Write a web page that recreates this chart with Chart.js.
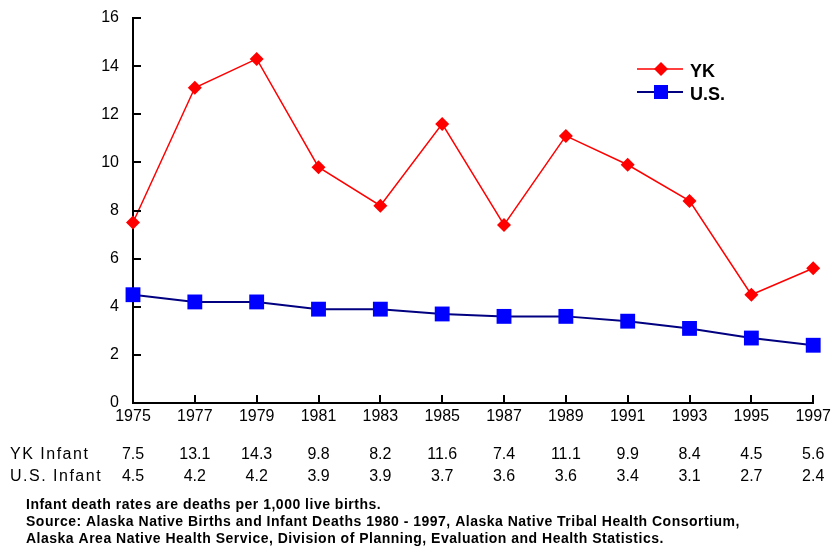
<!DOCTYPE html>
<html>
<head>
<meta charset="utf-8">
<script src="https://cdn.jsdelivr.net/npm/chart.js@4/dist/chart.umd.min.js"></script>
<style>
html,body{margin:0;padding:0;background:#fff;}
#wrap{width:835px;height:552px;position:relative;}
</style>
</head>
<body>
<div id="wrap"><canvas id="c" width="835" height="552"></canvas></div>
<script>
// ---- data ----
const years = ['1975','1977','1979','1981','1983','1985','1987','1989','1991','1993','1995','1997'];
const ykInfant = [7.5, 13.1, 14.3, 9.8, 8.2, 11.6, 7.4, 11.1, 9.9, 8.4, 4.5, 5.6];
const usInfant = [4.5, 4.2, 4.2, 3.9, 3.9, 3.7, 3.6, 3.6, 3.4, 3.1, 2.7, 2.4];
const seriesNames = ['YK', 'U.S.'];
const tableRowLabels = ['YK Infant', 'U.S. Infant'];
const yMin = 0, yMax = 16, yStep = 2;
const footnotes = [
  'Infant death rates are deaths per 1,000 live births.',
  'Source: Alaska Native Births and Infant Deaths 1980 - 1997, Alaska Native Tribal Health Consortium,',
  'Alaska Area Native Health Service, Division of Planning, Evaluation and Health Statistics.'
];

const FONT = 'Arial, "Liberation Sans", sans-serif';
const RED = '#ff0000', BLUE = '#0000ff', NAVY = '#000080';

const extras = {
  id: 'extras',
  afterDraw(chart) {
    const ctx = chart.ctx;
    const xs = chart.scales.x, ys = chart.scales.y;
    const area = chart.chartArea;
    ctx.save();
    // inward ticks
    ctx.strokeStyle = '#000';
    ctx.lineWidth = 2;
    ctx.beginPath();
    for (let v = yMin; v <= yMax; v += yStep) {
      const y = Math.round(ys.getPixelForValue(v));
      ctx.moveTo(area.left, y);
      ctx.lineTo(area.left + 8, y);
    }
    years.forEach((_, i) => {
      const x = Math.round(xs.getPixelForValue(i));
      ctx.moveTo(x, area.bottom);
      ctx.lineTo(x, area.bottom - 8);
    });
    ctx.stroke();

    // legend
    const lx0 = 637, lx1 = 683, lmx = 661;
    const ly = [69, 92];
    ctx.lineWidth = 1.5;
    ctx.strokeStyle = RED;
    ctx.beginPath(); ctx.moveTo(lx0, ly[0]); ctx.lineTo(lx1, ly[0]); ctx.stroke();
    ctx.fillStyle = RED;
    ctx.beginPath();
    ctx.moveTo(lmx, ly[0] - 7); ctx.lineTo(lmx + 7, ly[0]); ctx.lineTo(lmx, ly[0] + 7); ctx.lineTo(lmx - 7, ly[0]);
    ctx.closePath(); ctx.fill();
    ctx.lineWidth = 2;
    ctx.strokeStyle = NAVY;
    ctx.beginPath(); ctx.moveTo(lx0, ly[1]); ctx.lineTo(lx1, ly[1]); ctx.stroke();
    ctx.fillStyle = BLUE;
    ctx.fillRect(lmx - 7, ly[1] - 7, 14, 14);
    ctx.fillStyle = '#000';
    ctx.font = 'bold 18px ' + FONT;
    ctx.textAlign = 'left';
    ctx.textBaseline = 'middle';
    ctx.fillText(seriesNames[0], 690, 72);
    ctx.fillText(seriesNames[1], 690, 95);

    // data table
    ctx.font = '16px ' + FONT;
    ctx.fillStyle = '#000';
    ctx.textAlign = 'left';
    ctx.letterSpacing = '1.5px';
    ctx.fillText(tableRowLabels[0], 10, 455);
    ctx.fillText(tableRowLabels[1], 10, 477);
    ctx.letterSpacing = '0px';
    ctx.textAlign = 'center';
    years.forEach((_, i) => {
      const x = xs.getPixelForValue(i);
      ctx.fillText(ykInfant[i].toFixed(1), x, 455);
      ctx.fillText(usInfant[i].toFixed(1), x, 477);
    });

    // footnotes
    ctx.font = 'bold 14px ' + FONT;
    ctx.letterSpacing = '0.5px';
    ctx.textAlign = 'left';
    footnotes.forEach((t, i) => ctx.fillText(t, 26, 505 + i * 17));
    ctx.restore();
  }
};

new Chart(document.getElementById('c'), {
  type: 'line',
  data: {
    labels: years,
    datasets: [
      {
        label: seriesNames[0],
        data: ykInfant,
        borderColor: RED,
        backgroundColor: RED,
        borderWidth: 1.5,
        pointStyle: 'rectRot',
        pointRadius: 7,
        pointBorderWidth: 0,
        pointBackgroundColor: RED,
        tension: 0,
        clip: false
      },
      {
        label: seriesNames[1],
        data: usInfant,
        borderColor: NAVY,
        backgroundColor: BLUE,
        borderWidth: 2,
        pointStyle: 'rect',
        pointRadius: 10.5,
        pointBorderWidth: 0,
        pointBackgroundColor: BLUE,
        tension: 0,
        clip: false
      }
    ]
  },
  options: {
    responsive: false,
    animation: false,
    events: [],
    layout: { padding: { left: 0, right: 19, top: 18, bottom: 119 } },
    plugins: { legend: { display: false }, tooltip: { enabled: false } },
    scales: {
      x: {
        type: 'category',
        offset: false,
        grid: { display: true, drawOnChartArea: false, drawTicks: false },
        border: { display: true, color: '#000', width: 2 },
        ticks: { color: '#000', font: { family: FONT, size: 16 }, padding: 4, maxRotation: 0, autoSkip: false },
        afterFit(s) { s.height = 30; }
      },
      y: {
        min: yMin, max: yMax,
        grid: { display: true, drawOnChartArea: false, drawTicks: false },
        border: { display: true, color: '#000', width: 2 },
        ticks: { stepSize: yStep, color: '#000', font: { family: FONT, size: 16 }, padding: 14 },
        afterFit(s) { s.width = 133; s.paddingTop = 8; s.paddingBottom = 8; }
      }
    }
  },
  plugins: [extras]
});
</script>
</body>
</html>
